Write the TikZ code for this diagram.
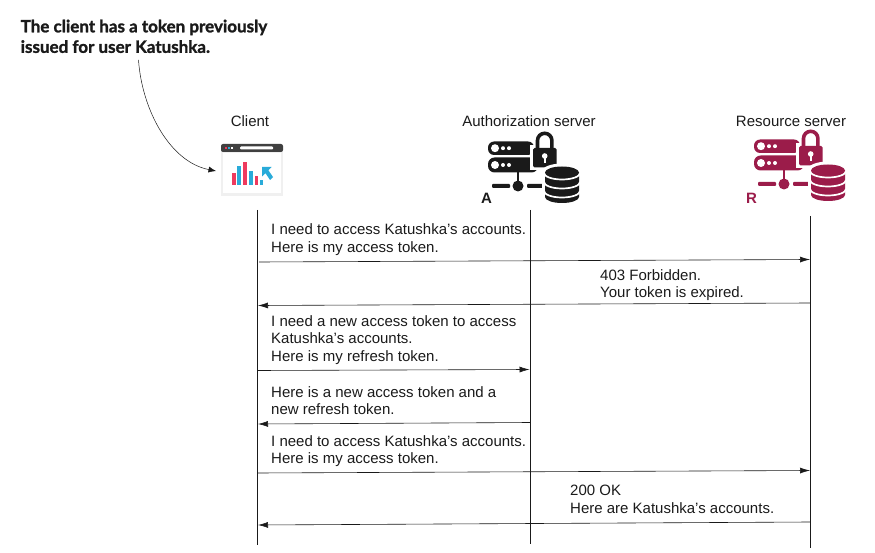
\documentclass[tikz,border=0pt]{standalone}
\usepackage{fontspec}
\setmainfont{Liberation Sans}
\newfontfamily\notefont{Lato}[BoldFeatures={FakeBold=1.4}]
\usetikzlibrary{arrows.meta}
\definecolor{maroon}{HTML}{9B1C4A}
\definecolor{ink}{HTML}{1A1A1A}
\definecolor{barblue}{HTML}{29ABD9}
\definecolor{barred}{HTML}{EE3A5E}
\tikzset{
  x=1pt,y=-1pt,
  lifeline/.style={draw=ink,line width=0.7pt},
  msg/.style={draw=ink,line width=0.6pt,-{Latex[length=10pt,width=6pt]}},
  msgtext/.style={font=\fontsize{15}{17.6}\selectfont,text=ink,align=left,anchor=north west,inner sep=0pt},
  actor/.style={font=\fontsize{15}{17}\selectfont,text=ink,inner sep=0pt,anchor=base},
  note/.style={font=\notefont\bfseries\fontsize{17}{20.5}\selectfont,text=ink,align=left,anchor=north west,inner sep=0pt},
  tag/.style={font=\bfseries\fontsize{15}{16}\selectfont,inner sep=0pt},
}
% server icon: #1 colour, origin at top-left of upper rack (y axis points down, so arcs are mirrored)
\newcommand{\servericon}[1]{%
  % racks
  \fill[#1,rounded corners=6pt] (0,-0.5) rectangle (46,13);
  \fill[#1,rounded corners=6.5pt] (0,15.5) rectangle (50,30.5);
  \fill[white] (7,6.2) circle (4) (7,23) circle (4);
  \fill[white] (15,6.2) circle (2) (21,6.2) circle (2) (15,23) circle (2) (21,23) circle (2);
  % stem, bus, node
  \fill[#1] (28.5,30) rectangle (31,44);
  \fill[#1,rounded corners=1pt] (4,41.8) rectangle (22,46);
  \fill[#1,rounded corners=1pt] (39,41.8) rectangle (57,46);
  \fill[#1] (30,44) circle (5.5);
  % padlock
  \fill[white] (42,3) rectangle (71,28);
  \draw[#1,line width=3.6pt] (49.5,8) -- (49.5,-1.5) arc[start angle=180,end angle=360,radius=7.2] -- (63.9,8);
  \fill[#1,rounded corners=1.5pt] (45,6) rectangle (68.5,25.5);
  \fill[white] (56.7,14) circle (2.8);
  \fill[white] (55.6,14) rectangle (57.8,21);
  % database
  \fill[white] (74,30) ellipse [x radius=20.5,y radius=8.5];
  \fill[white] (53.5,30) rectangle (94.5,52);
  \fill[#1] (57,30.5) -- (57,55) arc[start angle=180,end angle=0,x radius=17,y radius=6] -- (91,30.5)
     arc[start angle=0,end angle=-180,x radius=17,y radius=6] -- cycle;
  \draw[white,line width=1.7pt]
     (56,31) arc[start angle=180,end angle=0,x radius=18,y radius=6.5]
     (56,40) arc[start angle=180,end angle=0,x radius=18,y radius=6.5]
     (56,49) arc[start angle=180,end angle=0,x radius=18,y radius=6.5];
}
\begin{document}
\begin{tikzpicture}
\useasboundingbox (0,0) rectangle (875,553);
% note
\node[note] (note) at (20.5,19.5) {The client has a token previously\\issued for user Katushka.};
% actors
\node[actor] (clientlabel) at (250,126.5) {Client};
\node[actor] (authlabel) at (529,126.5) {Authorization server};
\node[actor] (reslabel) at (791,126.5) {Resource server};
% browser icon
\begin{scope}[shift={(221,144)}]
  \fill[black!6] (0,5) rectangle (62,52);
  \fill[white] (2,9.5) rectangle (60,49);
  \fill[black!75,rounded corners=2pt] (0,0) rectangle (62,8);
  \fill[white,rounded corners=1pt] (19,2.5) rectangle (52,5.5);
  \fill[barred] (4,3) rectangle (6,5);
  \fill[barblue] (7,3) rectangle (9,5);
  \fill[white] (10,3) rectangle (12,5);
  \fill[barred] (11,29) rectangle (14.5,41);
  \fill[barblue] (16.2,22) rectangle (20,41);
  \fill[barred] (22,18) rectangle (26,41);
  \fill[barblue] (28,27) rectangle (31.5,41);
  \fill[barred] (33.5,32) rectangle (37,41);
  \fill[barblue] (39,36) rectangle (42,41);
  \fill[barblue] (41,23) -- (50.5,23) -- (47.3,26.2) -- (52,33) -- (49,36) -- (44.5,29.2) -- (41,32.5) -- cycle;
\end{scope}
\coordinate (clienticon) at (216,171);
% server icons
\begin{scope}[shift={(488,142)}]\servericon{ink}\end{scope}
\begin{scope}[shift={(754,140)}]\servericon{maroon}\end{scope}
\node[tag,text=ink] (atag) at (486.5,198) {A};
\node[tag,text=maroon] (rtag) at (751.5,198) {R};
% note arrow
\coordinate (notefoot) at (138.5,60);
\draw[draw=ink,line width=0.5pt,-{Latex[length=7.5pt,width=6pt]}] (notefoot) .. controls (142,110) and (170,162) .. (clienticon);
% lifelines
\coordinate (c0) at (257,210); \coordinate (c1) at (257,545);
\coordinate (a0) at (530.5,210); \coordinate (a1) at (530.5,544);
\coordinate (r0) at (810,216); \coordinate (r1) at (810,548);
\draw[lifeline] (c0) -- (c1);
\draw[lifeline] (a0) -- (a1);
\draw[lifeline] (r0) -- (r1);
% message ends
\coordinate (m1s) at (259,262); \coordinate (m1e) at (810,259.5);
\coordinate (m2s) at (810,303); \coordinate (m2e) at (258,305.5);
\coordinate (m3s) at (257,370.5); \coordinate (m3e) at (529.5,369.5);
\coordinate (m4s) at (530.5,422.5); \coordinate (m4e) at (258,424);
\coordinate (m5s) at (257,473); \coordinate (m5e) at (810,470.5);
\coordinate (m6s) at (810,522); \coordinate (m6e) at (258,525);
\draw[msg] (m1s) -- (m1e);
\draw[msg] (m2s) -- (m2e);
\draw[msg] (m3s) -- (m3e);
\draw[msg] (m4s) -- (m4e);
\draw[msg] (m5s) -- (m5e);
\draw[msg] (m6s) -- (m6e);
% message texts
\node[msgtext] (t1) at (271,223.5) {I need to access Katushka’s accounts.\\Here is my access token.};
\node[msgtext] (t2) at (600,269) {403 Forbidden.\\Your token is expired.};
\node[msgtext] (t3) at (271,315) {I need a new access token to access\\Katushka’s accounts.\\Here is my refresh token.};
\node[msgtext] (t4) at (271,386) {Here is a new access token and a\\new refresh token.};
\node[msgtext] (t5) at (271,435) {I need to access Katushka’s accounts.\\Here is my access token.};
\node[msgtext] (t6) at (570,485) {200 OK\\Here are Katushka’s accounts.};
\end{tikzpicture}
\end{document}
